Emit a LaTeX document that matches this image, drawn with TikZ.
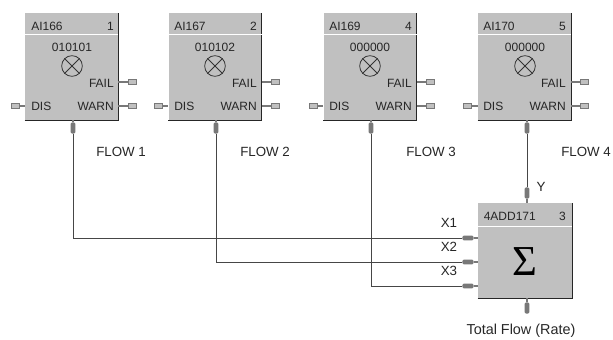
\documentclass[tikz,border=0pt]{standalone}
\usepackage{fontspec}
\setmainfont{Liberation Sans}
\newfontfamily\sumfont{Liberation Serif}
\definecolor{boxgray}{RGB}{192,192,192}
\definecolor{pingray}{RGB}{120,120,120}
\definecolor{wiregray}{RGB}{70,70,70}
\tikzset{
  blockbox/.style={fill=boxgray, inner sep=0pt, minimum width=69.75pt, minimum height=80.25pt},
  sumbox/.style={fill=boxgray, inner sep=0pt, minimum width=70.5pt, minimum height=71.25pt},
  hilite/.style={draw=white, line width=1pt},
  lolite/.style={draw=black!85, line width=1pt},
  rule/.style={draw=white, line width=.7pt},
  txt/.style={inner sep=0pt, font=\fontsize{9}{10}\selectfont, text=black!85},
  tag/.style={inner sep=0pt, font=\fontsize{10}{12}\selectfont, text=black!85},
  lamp/.style={draw=black!80, circle, inner sep=0pt, minimum size=15.5pt, line width=.6pt},
  openpin/.style={draw=pingray, fill=boxgray, inner sep=0pt, minimum width=6pt, minimum height=3.8pt, line width=.7pt},
  fatpin/.style={fill=pingray, rounded corners=1pt, inner sep=0pt},
  vpin/.style={fatpin, minimum width=3.6pt, minimum height=8.5pt},
  hpin/.style={fatpin, minimum width=8.5pt, minimum height=3.6pt},
  stub/.style={draw=pingray, line width=.9pt},
  wire/.style={draw=wiregray, line width=.7pt},
}
\begin{document}
\begin{tikzpicture}[x=0.75pt,y=-0.75pt]
\useasboundingbox (0,0) rectangle (613,339);
% first block
\node[blockbox] (b1) at (71.5,66.5) {};
\draw[hilite] (b1.south west) -- (b1.north west) -- (b1.north east);
\draw[lolite] (b1.south west) -- (b1.south east) -- (b1.north east);
\draw[rule] (b1.west |- 0,34.5) -- (b1.east |- 0,34.5);
\node[txt, anchor=west] (name1) at (31,26) {AI166};
\node[txt, anchor=east] (num1) at (114,26) {1};
\node[txt] (val1) at (72,47) {010101};
\node[lamp] (lamp1) at (72,66) {};
\draw[draw=black!80, line width=.6pt] (lamp1.45) -- (lamp1.225) (lamp1.135) -- (lamp1.315);
\node[txt, anchor=east] (fail1) at (114,83) {FAIL};
\node[txt, anchor=east] (warn1) at (114,106) {WARN};
\node[txt, anchor=west] (dis1) at (31,106) {DIS};
\node[openpin] (pf1) at (132,82) {};
\node[openpin] (pw1) at (132,106) {};
\node[openpin] (pd1) at (15.5,106) {};
\draw[stub] (pf1) -- (pf1 -| b1.east);
\draw[stub] (pw1) -- (pw1 -| b1.east);
\draw[stub] (pd1) -- (pd1 -| b1.west);
\node[vpin] (out1) at (73,128) {};
\draw[stub] (out1) -- (out1 |- b1.south);
\node[tag, anchor=west] (flow1) at (96,152) {FLOW 1};
% second block
\node[blockbox] (b2) at (215,66.5) {};
\draw[hilite] (b2.south west) -- (b2.north west) -- (b2.north east);
\draw[lolite] (b2.south west) -- (b2.south east) -- (b2.north east);
\draw[rule] (b2.west |- 0,34.5) -- (b2.east |- 0,34.5);
\node[txt, anchor=west] (name2) at (174,26) {AI167};
\node[txt, anchor=east] (num2) at (257,26) {2};
\node[txt] (val2) at (215,47) {010102};
\node[lamp] (lamp2) at (215,66) {};
\draw[draw=black!80, line width=.6pt] (lamp2.45) -- (lamp2.225) (lamp2.135) -- (lamp2.315);
\node[txt, anchor=east] (fail2) at (257,83) {FAIL};
\node[txt, anchor=east] (warn2) at (257,106) {WARN};
\node[txt, anchor=west] (dis2) at (174,106) {DIS};
\node[openpin] (pf2) at (275,82) {};
\node[openpin] (pw2) at (275,106) {};
\node[openpin] (pd2) at (158.5,106) {};
\draw[stub] (pf2) -- (pf2 -| b2.east);
\draw[stub] (pw2) -- (pw2 -| b2.east);
\draw[stub] (pd2) -- (pd2 -| b2.west);
\node[vpin] (out2) at (216,128) {};
\draw[stub] (out2) -- (out2 |- b2.south);
\node[tag, anchor=west] (flow2) at (240,152) {FLOW 2};
% third block
\node[blockbox] (b3) at (370,66.5) {};
\draw[hilite] (b3.south west) -- (b3.north west) -- (b3.north east);
\draw[lolite] (b3.south west) -- (b3.south east) -- (b3.north east);
\draw[rule] (b3.west |- 0,34.5) -- (b3.east |- 0,34.5);
\node[txt, anchor=west] (name3) at (329,26) {AI169};
\node[txt, anchor=east] (num3) at (412,26) {4};
\node[txt] (val3) at (370,47) {000000};
\node[lamp] (lamp3) at (370,66) {};
\draw[draw=black!80, line width=.6pt] (lamp3.45) -- (lamp3.225) (lamp3.135) -- (lamp3.315);
\node[txt, anchor=east] (fail3) at (412,83) {FAIL};
\node[txt, anchor=east] (warn3) at (412,106) {WARN};
\node[txt, anchor=west] (dis3) at (329,106) {DIS};
\node[openpin] (pf3) at (430,82) {};
\node[openpin] (pw3) at (430,106) {};
\node[openpin] (pd3) at (313.5,106) {};
\draw[stub] (pf3) -- (pf3 -| b3.east);
\draw[stub] (pw3) -- (pw3 -| b3.east);
\draw[stub] (pd3) -- (pd3 -| b3.west);
\node[vpin] (out3) at (371,128) {};
\draw[stub] (out3) -- (out3 |- b3.south);
\node[tag, anchor=west] (flow3) at (406,152) {FLOW 3};
% fourth block
\node[blockbox] (b4) at (524.5,66.5) {};
\draw[hilite] (b4.south west) -- (b4.north west) -- (b4.north east);
\draw[lolite] (b4.south west) -- (b4.south east) -- (b4.north east);
\draw[rule] (b4.west |- 0,34.5) -- (b4.east |- 0,34.5);
\node[txt, anchor=west] (name4) at (483,26) {AI170};
\node[txt, anchor=east] (num4) at (566,26) {5};
\node[txt] (val4) at (525,47) {000000};
\node[lamp] (lamp4) at (525,66) {};
\draw[draw=black!80, line width=.6pt] (lamp4.45) -- (lamp4.225) (lamp4.135) -- (lamp4.315);
\node[txt, anchor=east] (fail4) at (566,83) {FAIL};
\node[txt, anchor=east] (warn4) at (566,106) {WARN};
\node[txt, anchor=west] (dis4) at (483,106) {DIS};
\node[openpin] (pf4) at (584,82) {};
\node[openpin] (pw4) at (584,106) {};
\node[openpin] (pd4) at (467.5,106) {};
\draw[stub] (pf4) -- (pf4 -| b4.east);
\draw[stub] (pw4) -- (pw4 -| b4.east);
\draw[stub] (pd4) -- (pd4 -| b4.west);
\node[vpin] (out4) at (527,128) {};
\draw[stub] (out4) -- (out4 |- b4.south);
\node[tag, anchor=west] (flow4) at (561,152) {FLOW 4};
% sum block
\node[sumbox] (add) at (525,250.5) {};
\draw[hilite] (add.south west) -- (add.north west) -- (add.north east);
\draw[lolite] (add.south west) -- (add.south east) -- (add.north east);
\draw[rule] (add.west |- 0,226) -- (add.east |- 0,226);
\node[txt, anchor=west] (addname) at (483.5,216) {4ADD171};
\node[txt, anchor=east] (addnum) at (566,216) {3};
\node[inner sep=0pt, font=\sumfont\fontsize{32}{32}\selectfont] (sigma) at (525,262) {Σ};
\node[vpin] (iny) at (527,193) {};
\draw[stub] (iny) -- (iny |- add.north);
\node[hpin] (inx1) at (468,238) {};
\node[hpin] (inx2) at (468,262) {};
\node[hpin] (inx3) at (468,286) {};
\draw[stub] (inx1) -- (inx1 -| add.west);
\draw[stub] (inx2) -- (inx2 -| add.west);
\draw[stub] (inx3) -- (inx3 -| add.west);
\node[vpin] (total) at (527,308) {};
\draw[stub] (total) -- (total |- add.south);
\node[tag] (ylab) at (541,187) {Y};
\node[tag] (x1lab) at (449,223) {X1};
\node[tag] (x2lab) at (449,247) {X2};
\node[tag] (x3lab) at (449,271) {X3};
\node[tag, font=\fontsize{10.8}{12}\selectfont] (totlab) at (521,331) {Total Flow (Rate)};
% wires
\draw[wire] (out1) |- (inx1);
\draw[wire] (out2) |- (inx2);
\draw[wire] (out3) |- (inx3);
\draw[wire] (out4) -- (iny);
\end{tikzpicture}
\end{document}
